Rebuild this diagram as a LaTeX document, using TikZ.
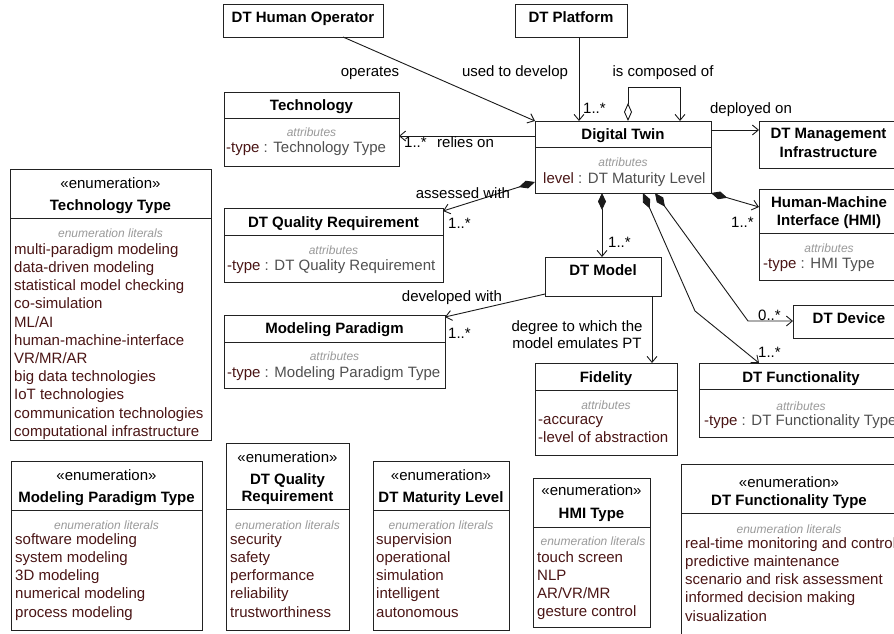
\documentclass[tikz,border=0pt]{standalone}
\usepackage{fontspec}
\setmainfont{Liberation Sans}
\usetikzlibrary{arrows.meta,fit}
\definecolor{boxc}{HTML}{222222}
\definecolor{linec}{HTML}{1A1A1A}
\definecolor{litc}{HTML}{4A1515}
\definecolor{typec}{HTML}{505050}
\definecolor{metac}{HTML}{9A9A9A}
\begin{document}
\begin{tikzpicture}[x=1pt,y=-1pt,
  box/.style={draw=boxc, line width=0.9pt, inner sep=0pt, outer sep=0pt},
  divline/.style={draw=boxc, line width=0.9pt},
  tx/.style={inner sep=0pt, anchor=base, yshift=-5.2pt, font=\fontsize{15}{18}\selectfont},
  txl/.style={tx, anchor=base west},
  ttl/.style={tx, font=\fontsize{15}{18}\selectfont\bfseries},
  meta/.style={tx, font=\fontsize{12}{14}\selectfont\itshape, text=metac},
  lit/.style={txl, text=litc},
  attr/.style={txl, text=typec},
  link/.style={draw=linec, line width=0.9pt},
  arrowlink/.style={link, -{Straight Barb[length=6pt,width=10pt]}},
  complink/.style={link, {Diamond[length=17pt,width=8pt]}-{Straight Barb[length=6pt,width=10pt]}},
  agglink/.style={link, {Diamond[open,length=18pt,width=8pt]}-{Straight Barb[length=6pt,width=10pt]}},
]
\useasboundingbox (0,0) rectangle (894,633);
\fill[white] (0,0) rectangle (894,633);
\clip (0,0) rectangle (894,633);

% ---------- classes ----------
\node[box, fit={(223,4) (383,37)}] (hop) {};
\node[ttl] (hopT) at (303,17) {DT Human Operator};

\node[box, fit={(515,4) (627,37)}] (plat) {};
\node[ttl] (platT) at (571,17) {DT Platform};

\node[box, fit={(224,92) (399,166)}] (tech) {};
\draw[divline] (tech.west |- 0,118) -- (tech.east |- 0,118);
\node[ttl] (techT) at (311.5,105) {Technology};
\node[meta] (techM) at (311.5,131) {attributes};
\node[attr] (techA) at (226,147) {\textcolor{litc}{-type} : Technology Type};

\node[box, fit={(535,121) (711,193)}] (dt) {};
\draw[divline] (dt.west |- 0,147) -- (dt.east |- 0,147);
\node[ttl] (dtT) at (623,134) {Digital Twin};
\node[meta] (dtM) at (623,161) {attributes};
\node[attr] (dtA) at (543,178) {\textcolor{litc}{level} : DT Maturity Level};

\node[box, fit={(759,121) (898,168)}] (mgmt) {};
\node[ttl] (mgmtT1) at (828.5,133) {DT Management};
\node[ttl] (mgmtT2) at (828.5,152) {Infrastructure};

\node[box, fit={(759,189) (899,280)}] (hmi) {};
\draw[divline] (hmi.west |- 0,233) -- (hmi.east |- 0,233);
\node[ttl] (hmiT1) at (829,202) {Human-Machine};
\node[ttl] (hmiT2) at (829,220) {Interface (HMI)};
\node[meta] (hmiM) at (829,247) {attributes};
\node[attr] (hmiA) at (763,263) {\textcolor{litc}{-type} : HMI Type};

\node[box, fit={(224,208) (443,282)}] (dqr) {};
\draw[divline] (dqr.west |- 0,235) -- (dqr.east |- 0,235);
\node[ttl] (dqrT) at (333.5,222) {DT Quality Requirement};
\node[meta] (dqrM) at (333.5,249) {attributes};
\node[attr] (dqrA) at (227,265) {\textcolor{litc}{-type} : DT Quality Requirement};

\node[box, fit={(545,257) (661,296)}] (model) {};
\node[ttl] (modelT) at (603,270) {DT Model};

\node[box, fit={(224,315) (445,388)}] (mp) {};
\draw[divline] (mp.west |- 0,342) -- (mp.east |- 0,342);
\node[ttl] (mpT) at (334.5,328) {Modeling Paradigm};
\node[meta] (mpM) at (334.5,355) {attributes};
\node[attr] (mpA) at (227,372) {\textcolor{litc}{-type} : Modeling Paradigm Type};

\node[box, fit={(535,363) (677,455)}] (fid) {};
\draw[divline] (fid.west |- 0,390) -- (fid.east |- 0,390);
\node[ttl] (fidT) at (606,377) {Fidelity};
\node[meta] (fidM) at (606,404) {attributes};
\node[lit] (fidA1) at (538,419) {-accuracy};
\node[lit] (fidA2) at (538,437) {-level of abstraction};

\node[box, fit={(793,305) (905,338)}] (dev) {};
\node[ttl] (devT) at (849,318) {DT Device};

\node[box, fit={(699,363) (903,437)}] (func) {};
\draw[divline] (func.west |- 0,389) -- (func.east |- 0,389);
\node[ttl] (funcT) at (801,377) {DT Functionality};
\node[meta] (funcM) at (801,405) {attributes};
\node[attr] (funcA) at (704,420) {\textcolor{litc}{-type} : DT Functionality Type};

% ---------- enumerations ----------
\node[box, fit={(10,169) (211,440)}] (tt) {};
\draw[divline] (tt.west |- 0,218) -- (tt.east |- 0,218);
\node[tx] (ttS) at (110.5,183) {«enumeration»};
\node[ttl] (ttT) at (110.5,205) {Technology Type};
\node[meta] (ttM) at (110.5,232) {enumeration literals};
\foreach \s [count=\i from 0] in {multi-paradigm modeling, data-driven modeling,
  statistical model checking, co-simulation, ML/AI, human-machine-interface,
  VR/MR/AR, big data technologies, IoT technologies, communication technologies,
  computational infrastructure}
  \node[lit] (tt-\i) at (14,{249+18.2*\i}) {\s};

\node[box, fit={(11,461) (202,630)}] (mpt) {};
\draw[divline] (mpt.west |- 0,510) -- (mpt.east |- 0,510);
\node[tx] (mptS) at (106.5,475) {«enumeration»};
\node[ttl] (mptT) at (106.5,497) {Modeling Paradigm Type};
\node[meta] (mptM) at (106.5,524) {enumeration literals};
\foreach \s [count=\i from 0] in {software modeling, system modeling, 3D modeling,
  numerical modeling, process modeling}
  \node[lit] (mpt-\i) at (15,{539+18.25*\i}) {\s};

\node[box, fit={(226,443) (349,630)}] (dqrt) {};
\draw[divline] (dqrt.west |- 0,509) -- (dqrt.east |- 0,509);
\node[tx] (dqrtS) at (287.5,457) {«enumeration»};
\node[ttl] (dqrtT1) at (287.5,479) {DT Quality};
\node[ttl] (dqrtT2) at (287.5,496) {Requirement};
\node[meta] (dqrtM) at (287.5,524) {enumeration literals};
\foreach \s [count=\i from 0] in {security, safety, performance, reliability,
  trustworthiness}
  \node[lit] (dqrt-\i) at (230,{539+18.25*\i}) {\s};

\node[box, fit={(373,461) (509,630)}] (mlt) {};
\draw[divline] (mlt.west |- 0,510) -- (mlt.east |- 0,510);
\node[tx] (mltS) at (441,475) {«enumeration»};
\node[ttl] (mltT) at (441,497) {DT Maturity Level};
\node[meta] (mltM) at (441,524) {enumeration literals};
\foreach \s [count=\i from 0] in {supervision, operational, simulation, intelligent,
  autonomous}
  \node[lit] (mlt-\i) at (376,{539+18.25*\i}) {\s};

\node[box, fit={(533,478) (650,627)}] (hmit) {};
\draw[divline] (hmit.west |- 0,527) -- (hmit.east |- 0,527);
\node[tx] (hmitS) at (591.5,490) {«enumeration»};
\node[ttl] (hmitT) at (591.5,513) {HMI Type};
\node[meta] (hmitM) at (593,540) {enumeration literals};
\foreach \s [count=\i from 0] in {touch screen, NLP, AR/VR/MR, gesture control}
  \node[lit] (hmit-\i) at (537,{557+18.2*\i}) {\s};

\node[box, fit={(681,464) (897,640)}] (ft) {};
\draw[divline] (ft.west |- 0,513) -- (ft.east |- 0,513);
\node[tx] (ftS) at (789,482) {«enumeration»};
\node[ttl] (ftT) at (789,500) {DT Functionality Type};
\node[meta] (ftM) at (789,528) {enumeration literals};
\foreach \s [count=\i from 0] in {real-time monitoring and control,
  predictive maintenance, scenario and risk assessment, informed decision making,
  visualization}
  \node[lit] (ft-\i) at (685,{543+18.25*\i}) {\s};

% ---------- connectors ----------
\coordinate (fbend) at (695,311);
\coordinate (dbend) at (748,321);

\draw[arrowlink] (hop.south -| 343,0) -- (dt.north west);
\draw[arrowlink] (plat.south -| 579,0) -- (dt.north -| 579,0);
\draw[agglink] (dt.north -| 628,0) -- ++(0,-34) -| (dt.north -| 680,0);
\draw[arrowlink] (dt.east |- 0,130) -- (mgmt.west |- 0,130);
\draw[arrowlink] (dt.west |- 0,136) -- (tech.east |- 0,136);
\draw[complink] (dt.west |- 0,182) -- (dqr.east |- 0,211);
\draw[complink] (dt.south -| 602,0) -- (model.north -| 602,0);
\draw[complink] (dt.south east) -- (hmi.west |- 0,207);
\draw[complink] (dt.south -| 643,0) -- (fbend) -- (func.north -| 759,0);
\draw[complink] (dt.south -| 655,0) -- (dbend) -- (dev.west |- 0,321);
\draw[arrowlink] (model.west |- 0,294) -- (mp.east |- 0,317);
\draw[arrowlink] (model.south -| 652,0) -- (fid.north -| 652,0);

% ---------- connector labels ----------
\node[tx] (lOp) at (370,71) {operates};
\node[tx] (lUse) at (515,71) {used to develop};
\node[tx] (lComp) at (663,71) {is composed of};
\node[txl] (mPlat) at (583,108) {1..*};
\node[tx] (lDep) at (751,108) {deployed on};
\node[txl] (mTech) at (404,142) {1..*};
\node[txl] (lRel) at (437,142) {relies on};
\node[tx] (lAss) at (463,193) {assessed with};
\node[txl] (mDqr) at (448,223) {1..*};
\node[tx] (lDev) at (452,296) {developed with};
\node[txl] (mMp) at (448,333) {1..*};
\node[txl] (mModel) at (608,242) {1..*};
\node[txl] (mHmi) at (731,222) {1..*};
\node[txl] (mDev) at (758,315) {0..*};
\node[txl] (mFunc) at (758,352) {1..*};
\node[tx] (lDeg1) at (577,326) {degree to which the};
\node[tx] (lDeg2) at (577,343) {model emulates PT};
\end{tikzpicture}
\end{document}
